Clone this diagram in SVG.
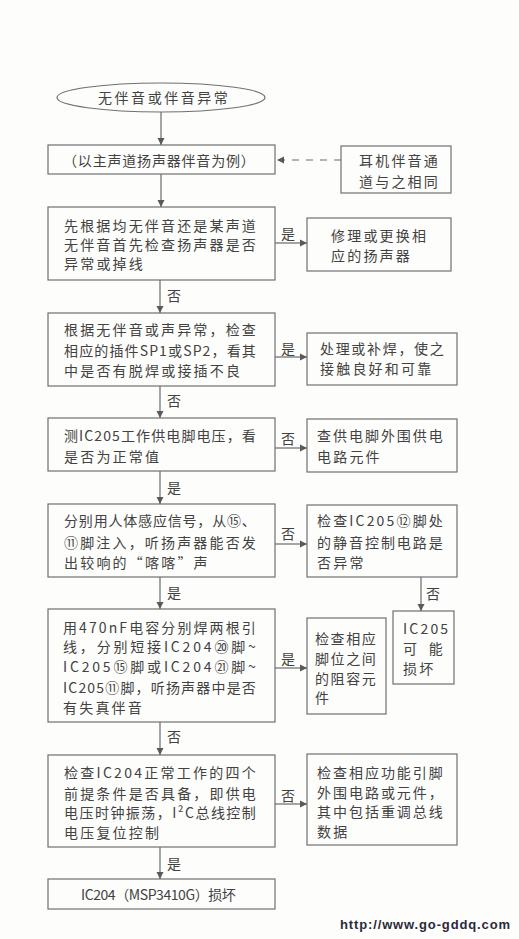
<svg xmlns="http://www.w3.org/2000/svg" width="519" height="939" viewBox="0 0 519 939">
<style>
.bg{fill:#fdfdfc}
.box{fill:none;stroke:#707070;stroke-width:1.2}
.t{font-family:"Noto Sans CJK SC","Noto Sans",sans-serif;font-size:14px;fill:#424242;letter-spacing:2.2px;dominant-baseline:central}
.c{text-anchor:middle}
.lbl{font-family:"Noto Sans CJK SC",sans-serif;font-size:14px;fill:#424242;text-anchor:middle;dominant-baseline:central}
.ln{stroke:#6a6a6a;stroke-width:1.2;fill:none}
.url{font-family:"Liberation Sans",Arial,sans-serif;font-weight:bold;font-size:13px;fill:#2a2a3a}
</style>
<defs>
<marker id="ah" markerWidth="8" markerHeight="8" refX="7" refY="4" orient="auto" markerUnits="userSpaceOnUse">
<path d="M0,0.5 L7,4 L0,7.5 Z" fill="#5a5a5a"/>
</marker>
</defs>
<rect class="bg" x="0" y="0" width="519" height="939"/>

<g id="connectors">
<line class="ln" x1="161" y1="112" x2="161" y2="145" marker-end="url(#ah)"/>
<line class="ln" x1="341" y1="160" x2="277" y2="160" stroke-dasharray="7,7" marker-end="url(#ah)"/>
<line class="ln" x1="161" y1="174" x2="161" y2="207" marker-end="url(#ah)"/>
<line class="ln" x1="275" y1="243" x2="307" y2="243" marker-end="url(#ah)"/>
<line class="ln" x1="160" y1="280" x2="160" y2="313" marker-end="url(#ah)"/>
<line class="ln" x1="275" y1="357" x2="307" y2="357" marker-end="url(#ah)"/>
<line class="ln" x1="160" y1="386" x2="160" y2="418" marker-end="url(#ah)"/>
<line class="ln" x1="275" y1="448" x2="307" y2="448" marker-end="url(#ah)"/>
<line class="ln" x1="160" y1="471" x2="160" y2="504" marker-end="url(#ah)"/>
<line class="ln" x1="275" y1="544" x2="307" y2="544" marker-end="url(#ah)"/>
<line class="ln" x1="421" y1="577" x2="421" y2="611" marker-end="url(#ah)"/>
<line class="ln" x1="160" y1="577" x2="160" y2="609" marker-end="url(#ah)"/>
<line class="ln" x1="275" y1="668" x2="307" y2="668" marker-end="url(#ah)"/>
<line class="ln" x1="160" y1="722" x2="160" y2="755" marker-end="url(#ah)"/>
<line class="ln" x1="275" y1="804" x2="307" y2="804" marker-end="url(#ah)"/>
<line class="ln" x1="160" y1="847" x2="160" y2="879" marker-end="url(#ah)"/>
<text class="lbl" x="288" y="233">是</text>
<text class="lbl" x="174" y="295">否</text>
<text class="lbl" x="288" y="348">是</text>
<text class="lbl" x="174" y="400">否</text>
<text class="lbl" x="288" y="438">否</text>
<text class="lbl" x="174" y="487">是</text>
<text class="lbl" x="288" y="533">否</text>
<text class="lbl" x="433" y="593">否</text>
<text class="lbl" x="174" y="592">是</text>
<text class="lbl" x="288" y="658">是</text>
<text class="lbl" x="174" y="736">否</text>
<text class="lbl" x="288" y="795">否</text>
<text class="lbl" x="174" y="863">是</text>
</g>

<g id="start">
<ellipse class="box" cx="161" cy="97.5" rx="104" ry="14.5"/>
<text class="t" x="98" y="97" textLength="132">无伴音或伴音异常</text>
</g>

<g id="n_example">
<rect class="box" x="48" y="145" width="227" height="29"/>
<text class="t" x="63" y="160" textLength="194">（以主声道扬声器伴音为例）</text>
</g>

<g id="n_earphone">
<rect class="box" x="341" y="146" width="110" height="47"/>
<text class="t" x="359" y="160">耳机伴音通</text>
<text class="t" x="359" y="181">道与之相同</text>
</g>

<g id="n_check_speaker">
<rect class="box" x="48" y="207" width="227" height="73"/>
<text class="t" x="64" y="225" textLength="194">先根据均无伴音还是某声道</text>
<text class="t" x="64" y="244" textLength="194">无伴音首先检查扬声器是否</text>
<text class="t" x="64" y="263">异常或掉线</text>
</g>

<g id="n_repair_speaker">
<rect class="box" x="307" y="218" width="144" height="53"/>
<text class="t" x="331" y="235">修理或更换相</text>
<text class="t" x="331" y="255">应的扬声器</text>
</g>

<g id="n_check_plug">
<rect class="box" x="48" y="313" width="227" height="73"/>
<text class="t" x="64" y="329" textLength="194">根据无伴音或声异常，检查</text>
<text class="t" x="64" y="350" textLength="194">相应的插件SP1或SP2，看其</text>
<text class="t" x="64" y="370">中是否有脱焊或接插不良</text>
</g>

<g id="n_resolder">
<rect class="box" x="307" y="333" width="150" height="52"/>
<text class="t" x="320" y="348" textLength="126">处理或补焊，使之</text>
<text class="t" x="320" y="368">接触良好和可靠</text>
</g>

<g id="n_supply">
<rect class="box" x="48" y="418" width="227" height="53"/>
<text class="t" x="64" y="435" textLength="194">测IC205工作供电脚电压，看</text>
<text class="t" x="64" y="456">是否为正常值</text>
</g>

<g id="n_supply_parts">
<rect class="box" x="307" y="419" width="150" height="53"/>
<text class="t" x="317" y="435" textLength="128">查供电脚外围供电</text>
<text class="t" x="317" y="456">电路元件</text>
</g>

<g id="n_inject">
<rect class="box" x="48" y="504" width="227" height="73"/>
<text class="t" x="64" y="520" textLength="194">分别用人体感应信号，从⑮、</text>
<text class="t" x="64" y="542" textLength="194">⑪脚注入，听扬声器能否发</text>
<text class="t" x="64" y="562">出较响的“喀喀”声</text>
</g>

<g id="n_mute">
<rect class="box" x="307" y="505" width="150" height="72"/>
<text class="t" x="317" y="520" textLength="128">检查IC205⑫脚处</text>
<text class="t" x="317" y="542" textLength="128">的静音控制电路是</text>
<text class="t" x="317" y="562">否异常</text>
</g>

<g id="n_ic205_bad">
<rect class="box" x="393" y="611" width="61" height="73"/>
<text class="t" x="403" y="628">IC205</text>
<text class="t" x="403" y="648" textLength="42">可　能</text>
<text class="t" x="403" y="668">损坏</text>
</g>

<g id="n_capacitor">
<rect class="box" x="48" y="609" width="227" height="113"/>
<text class="t" x="63" y="627" textLength="195">用470nF电容分别焊两根引</text>
<text class="t" x="63" y="646" textLength="195">线，分别短接IC204⑳脚~</text>
<text class="t" x="63" y="666" textLength="195">IC205⑮脚或IC204㉑脚~</text>
<text class="t" x="63" y="687" textLength="195">IC205⑪脚，听扬声器中是否</text>
<text class="t" x="63" y="707">有失真伴音</text>
</g>

<g id="n_rc">
<rect class="box" x="307" y="618" width="79" height="96"/>
<text class="t" x="315" y="638" textLength="63">检查相应</text>
<text class="t" x="315" y="658" textLength="63">脚位之间</text>
<text class="t" x="315" y="678" textLength="63">的阻容元</text>
<text class="t" x="315" y="697">件</text>
</g>

<g id="n_conditions">
<rect class="box" x="48" y="755" width="227" height="92"/>
<text class="t" x="64" y="772" textLength="194">检查IC204正常工作的四个</text>
<text class="t" x="64" y="793" textLength="194">前提条件是否具备，即供电</text>
<text class="t" x="64" y="812" textLength="194">电压时钟振荡，I²C总线控制</text>
<text class="t" x="64" y="832">电压复位控制</text>
</g>

<g id="n_pins">
<rect class="box" x="307" y="754" width="150" height="91"/>
<text class="t" x="317" y="772" textLength="128">检查相应功能引脚</text>
<text class="t" x="317" y="792" textLength="128">外围电路或元件，</text>
<text class="t" x="317" y="811" textLength="128">其中包括重调总线</text>
<text class="t" x="317" y="831">数据</text>
</g>

<g id="n_ic204_bad">
<rect class="box" x="48" y="879" width="227" height="30"/>
<text class="t" x="81" y="894" textLength="157">IC204（MSP3410G）损坏</text>
</g>

<text class="url" x="340" y="929" textLength="170">http://www.go-gddq.com</text>
</svg>
